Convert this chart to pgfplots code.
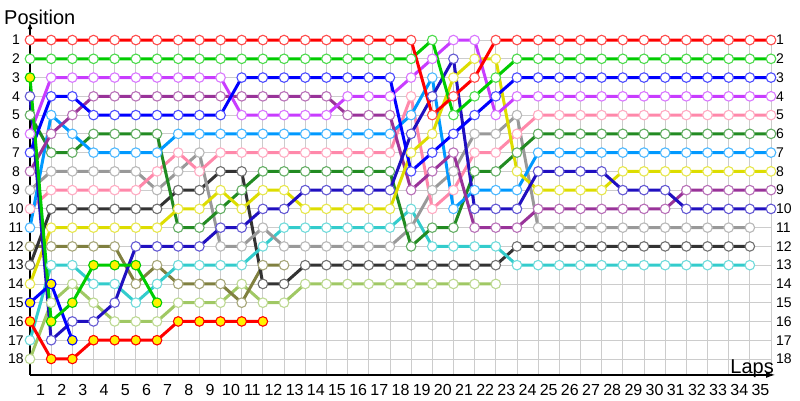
\documentclass[border=0pt]{standalone}
\usepackage{fontspec}
\setmainfont{Liberation Sans}
\usepackage{pgfplots}
\pgfplotsset{compat=1.18}
\usetikzlibrary{arrows.meta}
\definecolor{cRed}{HTML}{FF0000}
\definecolor{cLime}{HTML}{00CC00}
\definecolor{cBlue}{HTML}{0000FF}
\definecolor{cViolet}{HTML}{C83CFF}
\definecolor{cPurple}{HTML}{993399}
\definecolor{cForest}{HTML}{228B22}
\definecolor{cSky}{HTML}{0099FF}
\definecolor{cPink}{HTML}{FF88AA}
\definecolor{cGray}{HTML}{999999}
\definecolor{cOlive}{HTML}{808040}
\definecolor{cBlack}{HTML}{333333}
\definecolor{cYellow}{HTML}{DDDD00}
\definecolor{cNavy}{HTML}{2010C0}
\definecolor{cCyan}{HTML}{33CCCC}
\definecolor{cLgreen}{HTML}{A0C864}
\definecolor{cGrid}{HTML}{CCCCCC}
\pgfplotsset{
  drv/.style={color=#1, line width=3pt, mark=*, mark size=4.8pt,
    mark options={fill=white, draw=#1!70!white, line width=1.1pt, solid}},
  ret/.style={color=#1, line width=3pt, mark=*, mark size=4.8pt,
    mark options={fill=yellow, draw=#1, line width=1.1pt, solid}},
}
\begin{document}
\begin{tikzpicture}
\useasboundingbox (0,0) rectangle (800pt,400pt);
\begin{axis}[at={(30pt,25.1pt)}, anchor=south west, scale only axis,
  width=741pt, height=350.8pt, xmin=0, xmax=35, ymin=0.15, ymax=18.85,
  y dir=reverse, hide axis, clip=false]
% grid
\pgfplotsinvokeforeach{1,...,35}{
  \draw[cGrid, line width=0.8pt] (axis cs:#1,0.73) -- (axis cs:#1,18.85);
  \node[anchor=north, inner sep=0pt, font=\fontsize{16}{16}\selectfont] at ([xshift=-10.58pt,yshift=-9pt]axis cs:#1,18.85) {#1};
}
\pgfplotsinvokeforeach{1,...,18}{
  \draw[cGrid, line width=0.8pt] (axis cs:0,#1) -- (axis cs:35,#1);
  \node[anchor=center, inner sep=0pt, font=\fontsize{14}{14}\selectfont] at ([xshift=-14pt]axis cs:0,#1) {#1};
  \node[anchor=west, inner sep=0pt, font=\fontsize{14}{14}\selectfont] at ([xshift=5pt]axis cs:35,#1) {#1};
}
\draw[black, line width=1.2pt, -{Latex[length=9pt,width=6pt]}] (axis cs:0,18.85) -- (axis cs:35.2,18.85);
\draw[black, line width=1.2pt, -{Latex[length=7pt,width=5pt]}] (axis cs:0,18.85) -- (axis cs:0,0.05);
% series
\addplot[drv=cLgreen] coordinates {(0,18) (1,15) (2,14) (3,15) (4,16) (5,16) (6,16) (7,15) (8,15) (9,15) (10,14) (11,15) (12,15) (13,14) (14,14) (15,14) (16,14) (17,14) (18,14) (19,14) (20,14) (21,14) (22,14)};
\addplot[drv=cOlive] coordinates {(0,12) (1,12) (2,12) (3,12) (4,12) (5,14) (6,13) (7,14) (8,14) (9,14) (10,15) (11,13) (12,13)};
\addplot[drv=cBlack] coordinates {(0,13) (1,10) (2,10) (3,10) (4,10) (5,10) (6,10) (7,9) (8,9) (9,8) (10,8) (11,14) (12,14) (13,13) (14,13) (15,13) (16,13) (17,13) (18,13) (19,13) (20,13) (21,13) (22,13) (23,12) (24,12) (25,12) (26,12) (27,12) (28,12) (29,12) (30,12) (31,12) (32,12) (33,12) (34,12)};
\addplot[drv=cCyan] coordinates {(0,17) (1,13) (2,13) (3,14) (4,14) (5,15) (6,14) (7,13) (8,13) (9,13) (10,13) (11,12) (12,11) (13,11) (14,11) (15,11) (16,11) (17,11) (18,10) (19,12) (20,12) (21,12) (22,12) (23,13) (24,13) (25,13) (26,13) (27,13) (28,13) (29,13) (30,13) (31,13) (32,13) (33,13) (34,13)};
\addplot[drv=cGray] coordinates {(0,9) (1,8) (2,8) (3,8) (4,8) (5,8) (6,9) (7,8) (8,7) (9,12) (10,12) (11,11) (12,12) (13,12) (14,12) (15,12) (16,12) (17,12) (18,11) (19,9) (20,8) (21,6) (22,6) (23,5) (24,11) (25,11) (26,11) (27,11) (28,11) (29,11) (30,11) (31,11) (32,11) (33,11) (34,11)};
\addplot[drv=cPink] coordinates {(0,10) (1,9) (2,9) (3,9) (4,9) (5,9) (6,8) (7,7) (8,8) (9,7) (10,7) (11,7) (12,7) (13,7) (14,7) (15,7) (16,7) (17,7) (18,4) (19,10) (20,9) (21,7) (22,7) (23,6) (24,5) (25,5) (26,5) (27,5) (28,5) (29,5) (30,5) (31,5) (32,5) (33,5) (34,5) (35,5)};
\addplot[drv=cForest] coordinates {(0,5) (1,7) (2,7) (3,6) (4,6) (5,6) (6,6) (7,11) (8,11) (9,10) (10,9) (11,8) (12,8) (13,8) (14,8) (15,8) (16,8) (17,8) (18,12) (19,11) (20,11) (21,8) (22,8) (23,7) (24,6) (25,6) (26,6) (27,6) (28,6) (29,6) (30,6) (31,6) (32,6) (33,6) (34,6) (35,6)};
\addplot[drv=cSky] coordinates {(0,11) (1,5) (2,6) (3,7) (4,7) (5,7) (6,7) (7,6) (8,6) (9,6) (10,6) (11,6) (12,6) (13,6) (14,6) (15,6) (16,6) (17,6) (18,5) (19,3) (20,10) (21,9) (22,9) (23,9) (24,7) (25,7) (26,7) (27,7) (28,7) (29,7) (30,7) (31,7) (32,7) (33,7) (34,7) (35,7)};
\addplot[drv=cPurple] coordinates {(0,8) (1,6) (2,5) (3,4) (4,4) (5,4) (6,4) (7,4) (8,4) (9,4) (10,4) (11,4) (12,4) (13,4) (14,4) (15,5) (16,5) (17,5) (18,9) (19,8) (20,7) (21,11) (22,11) (23,11) (24,10) (25,10) (26,10) (27,10) (28,10) (29,10) (30,10) (31,9) (32,9) (33,9) (34,9) (35,9)};
\addplot[drv=cYellow] coordinates {(0,14) (1,11) (2,11) (3,11) (4,11) (5,11) (6,11) (7,10) (8,10) (9,9) (10,10) (11,9) (12,9) (13,10) (14,10) (15,10) (16,10) (17,10) (18,7) (19,6) (20,3) (21,2) (22,2) (23,8) (24,9) (25,9) (26,9) (27,9) (28,8) (29,8) (30,8) (31,8) (32,8) (33,8) (34,8) (35,8)};
\addplot[drv=cNavy] coordinates {(0,4) (1,17) (2,16) (3,16) (4,15) (5,12) (6,12) (7,12) (8,12) (9,11) (10,11) (11,10) (12,10) (13,9) (14,9) (15,9) (16,9) (17,9) (18,6) (19,4) (20,2) (21,10) (22,10) (23,10) (24,8) (25,8) (26,8) (27,8) (28,9) (29,9) (30,9) (31,10) (32,10) (33,10) (34,10) (35,10)};
\addplot[drv=cViolet] coordinates {(0,6) (1,3) (2,3) (3,3) (4,3) (5,3) (6,3) (7,3) (8,3) (9,3) (10,5) (11,5) (12,5) (13,5) (14,5) (15,4) (16,4) (17,4) (18,3) (19,2) (20,1) (21,1) (22,5) (23,4) (24,4) (25,4) (26,4) (27,4) (28,4) (29,4) (30,4) (31,4) (32,4) (33,4) (34,4) (35,4)};
\addplot[drv=cBlue] coordinates {(0,7) (1,4) (2,4) (3,5) (4,5) (5,5) (6,5) (7,5) (8,5) (9,5) (10,3) (11,3) (12,3) (13,3) (14,3) (15,3) (16,3) (17,3) (18,8) (19,7) (20,6) (21,5) (22,4) (23,3) (24,3) (25,3) (26,3) (27,3) (28,3) (29,3) (30,3) (31,3) (32,3) (33,3) (34,3) (35,3)};
\addplot[drv=cLime] coordinates {(0,2) (1,2) (2,2) (3,2) (4,2) (5,2) (6,2) (7,2) (8,2) (9,2) (10,2) (11,2) (12,2) (13,2) (14,2) (15,2) (16,2) (17,2) (18,2) (19,1) (20,5) (21,4) (22,3) (23,2) (24,2) (25,2) (26,2) (27,2) (28,2) (29,2) (30,2) (31,2) (32,2) (33,2) (34,2) (35,2)};
\addplot[drv=cRed] coordinates {(0,1) (1,1) (2,1) (3,1) (4,1) (5,1) (6,1) (7,1) (8,1) (9,1) (10,1) (11,1) (12,1) (13,1) (14,1) (15,1) (16,1) (17,1) (18,1) (19,5) (20,4) (21,3) (22,1) (23,1) (24,1) (25,1) (26,1) (27,1) (28,1) (29,1) (30,1) (31,1) (32,1) (33,1) (34,1) (35,1)};
\addplot[ret=cRed] coordinates {(0,16) (1,18) (2,18) (3,17) (4,17) (5,17) (6,17) (7,16) (8,16) (9,16) (10,16) (11,16)};
\addplot[ret=cBlue] coordinates {(0,15) (1,14) (2,17)};
\addplot[ret=cLime] coordinates {(0,3) (1,16) (2,15) (3,13) (4,13) (5,13) (6,15)};
\end{axis}
\node[anchor=base west, inner sep=0pt, font=\fontsize{20}{20}\selectfont] at (4pt,375pt) {Position};
\node[anchor=base east, inner sep=0pt, font=\fontsize{20}{20}\selectfont] at (774pt,27pt) {Laps};
\end{tikzpicture}
\end{document}
